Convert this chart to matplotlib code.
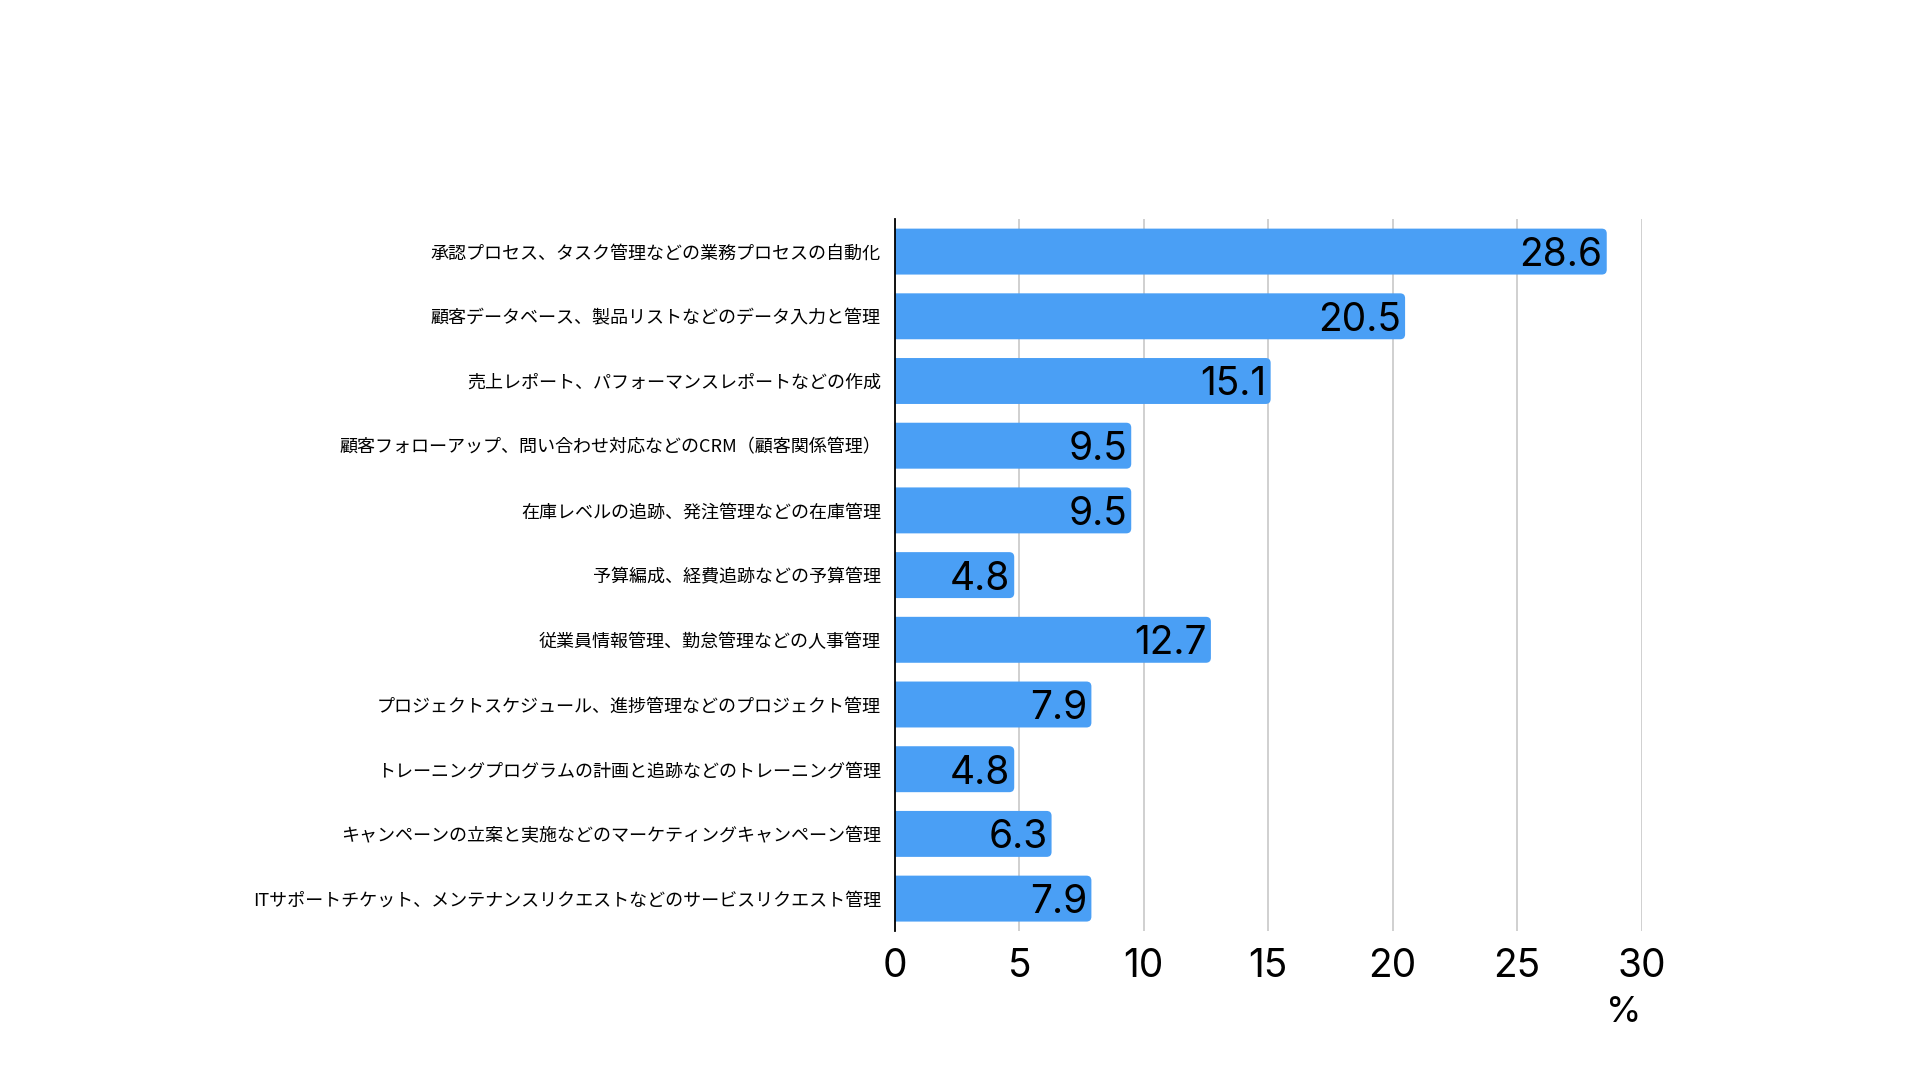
import matplotlib.pyplot as plt
from matplotlib.patches import FancyBboxPatch

plt.rcParams['font.family'] = ['Noto Sans CJK JP', 'DejaVu Sans']

categories = [
    '承認プロセス、タスク管理などの業務プロセスの自動化',
    '顧客データベース、製品リストなどのデータ入力と管理',
    '売上レポート、パフォーマンスレポートなどの作成',
    '顧客フォローアップ、問い合わせ対応などのCRM（顧客関係管理）',
    '在庫レベルの追跡、発注管理などの在庫管理',
    '予算編成、経費追跡などの予算管理',
    '従業員情報管理、勤怠管理などの人事管理',
    'プロジェクトスケジュール、進捗管理などのプロジェクト管理',
    'トレーニングプログラムの計画と追跡などのトレーニング管理',
    'キャンペーンの立案と実施などのマーケティングキャンペーン管理',
    'ITサポートチケット、メンテナンスリクエストなどのサービスリクエスト管理',
]
values = [28.6, 20.5, 15.1, 9.5, 9.5, 4.8, 12.7, 7.9, 4.8, 6.3, 7.9]
xticks = [0, 5, 10, 15, 20, 25, 30]

bar_color = '#4a9ff5'
num_font = ['Inter', 'DejaVu Sans']

fig = plt.figure(figsize=(19.2, 10.8), dpi=100)
ax = fig.add_axes([0.466, 0.138, 0.389, 0.659])

pos = list(range(len(categories)))
bars = ax.barh(pos, values, height=0.71, color=bar_color)

ax.set_xlim(0, 30)
ax.set_ylim(len(categories) - 0.5, -0.5)

# swap plain bars for ones with rounded right end
for b in bars:
    x, y = b.get_x(), b.get_y()
    w, h = b.get_width(), b.get_height()
    b.set_visible(False)
    rb = FancyBboxPatch((x - 1, y), w + 1, h,
                        boxstyle='round,pad=0,rounding_size=0.2',
                        mutation_aspect=0.38,
                        facecolor=bar_color, edgecolor='none', zorder=2)
    ax.add_patch(rb)

for p, v in zip(pos, values):
    ax.annotate(f'{v}', xy=(v, p), xytext=(-3, 0), textcoords='offset points',
                ha='right', va='center_baseline', fontsize=28, color='black',
                family=num_font, zorder=3)

ax.set_xticks(xticks)
ax.set_xticklabels([str(t) for t in xticks], fontsize=28, family=num_font)
ax.set_yticks(pos)
ax.set_yticklabels(categories, fontsize=13)
ax.tick_params(axis='x', length=0, pad=12)
ax.tick_params(axis='y', length=0, pad=10)

ax.grid(axis='x', color='#c8c8c8', linewidth=1.2, zorder=0)
ax.set_axisbelow(True)
for s in ['top', 'right', 'bottom']:
    ax.spines[s].set_visible(False)
ax.spines['left'].set_color('black')
ax.spines['left'].set_linewidth(1.3)
ax.spines['left'].set_zorder(4)

ax.set_xlabel('%', loc='right', fontsize=26, labelpad=8, family=num_font)

plt.savefig('out.png', dpi=100)
